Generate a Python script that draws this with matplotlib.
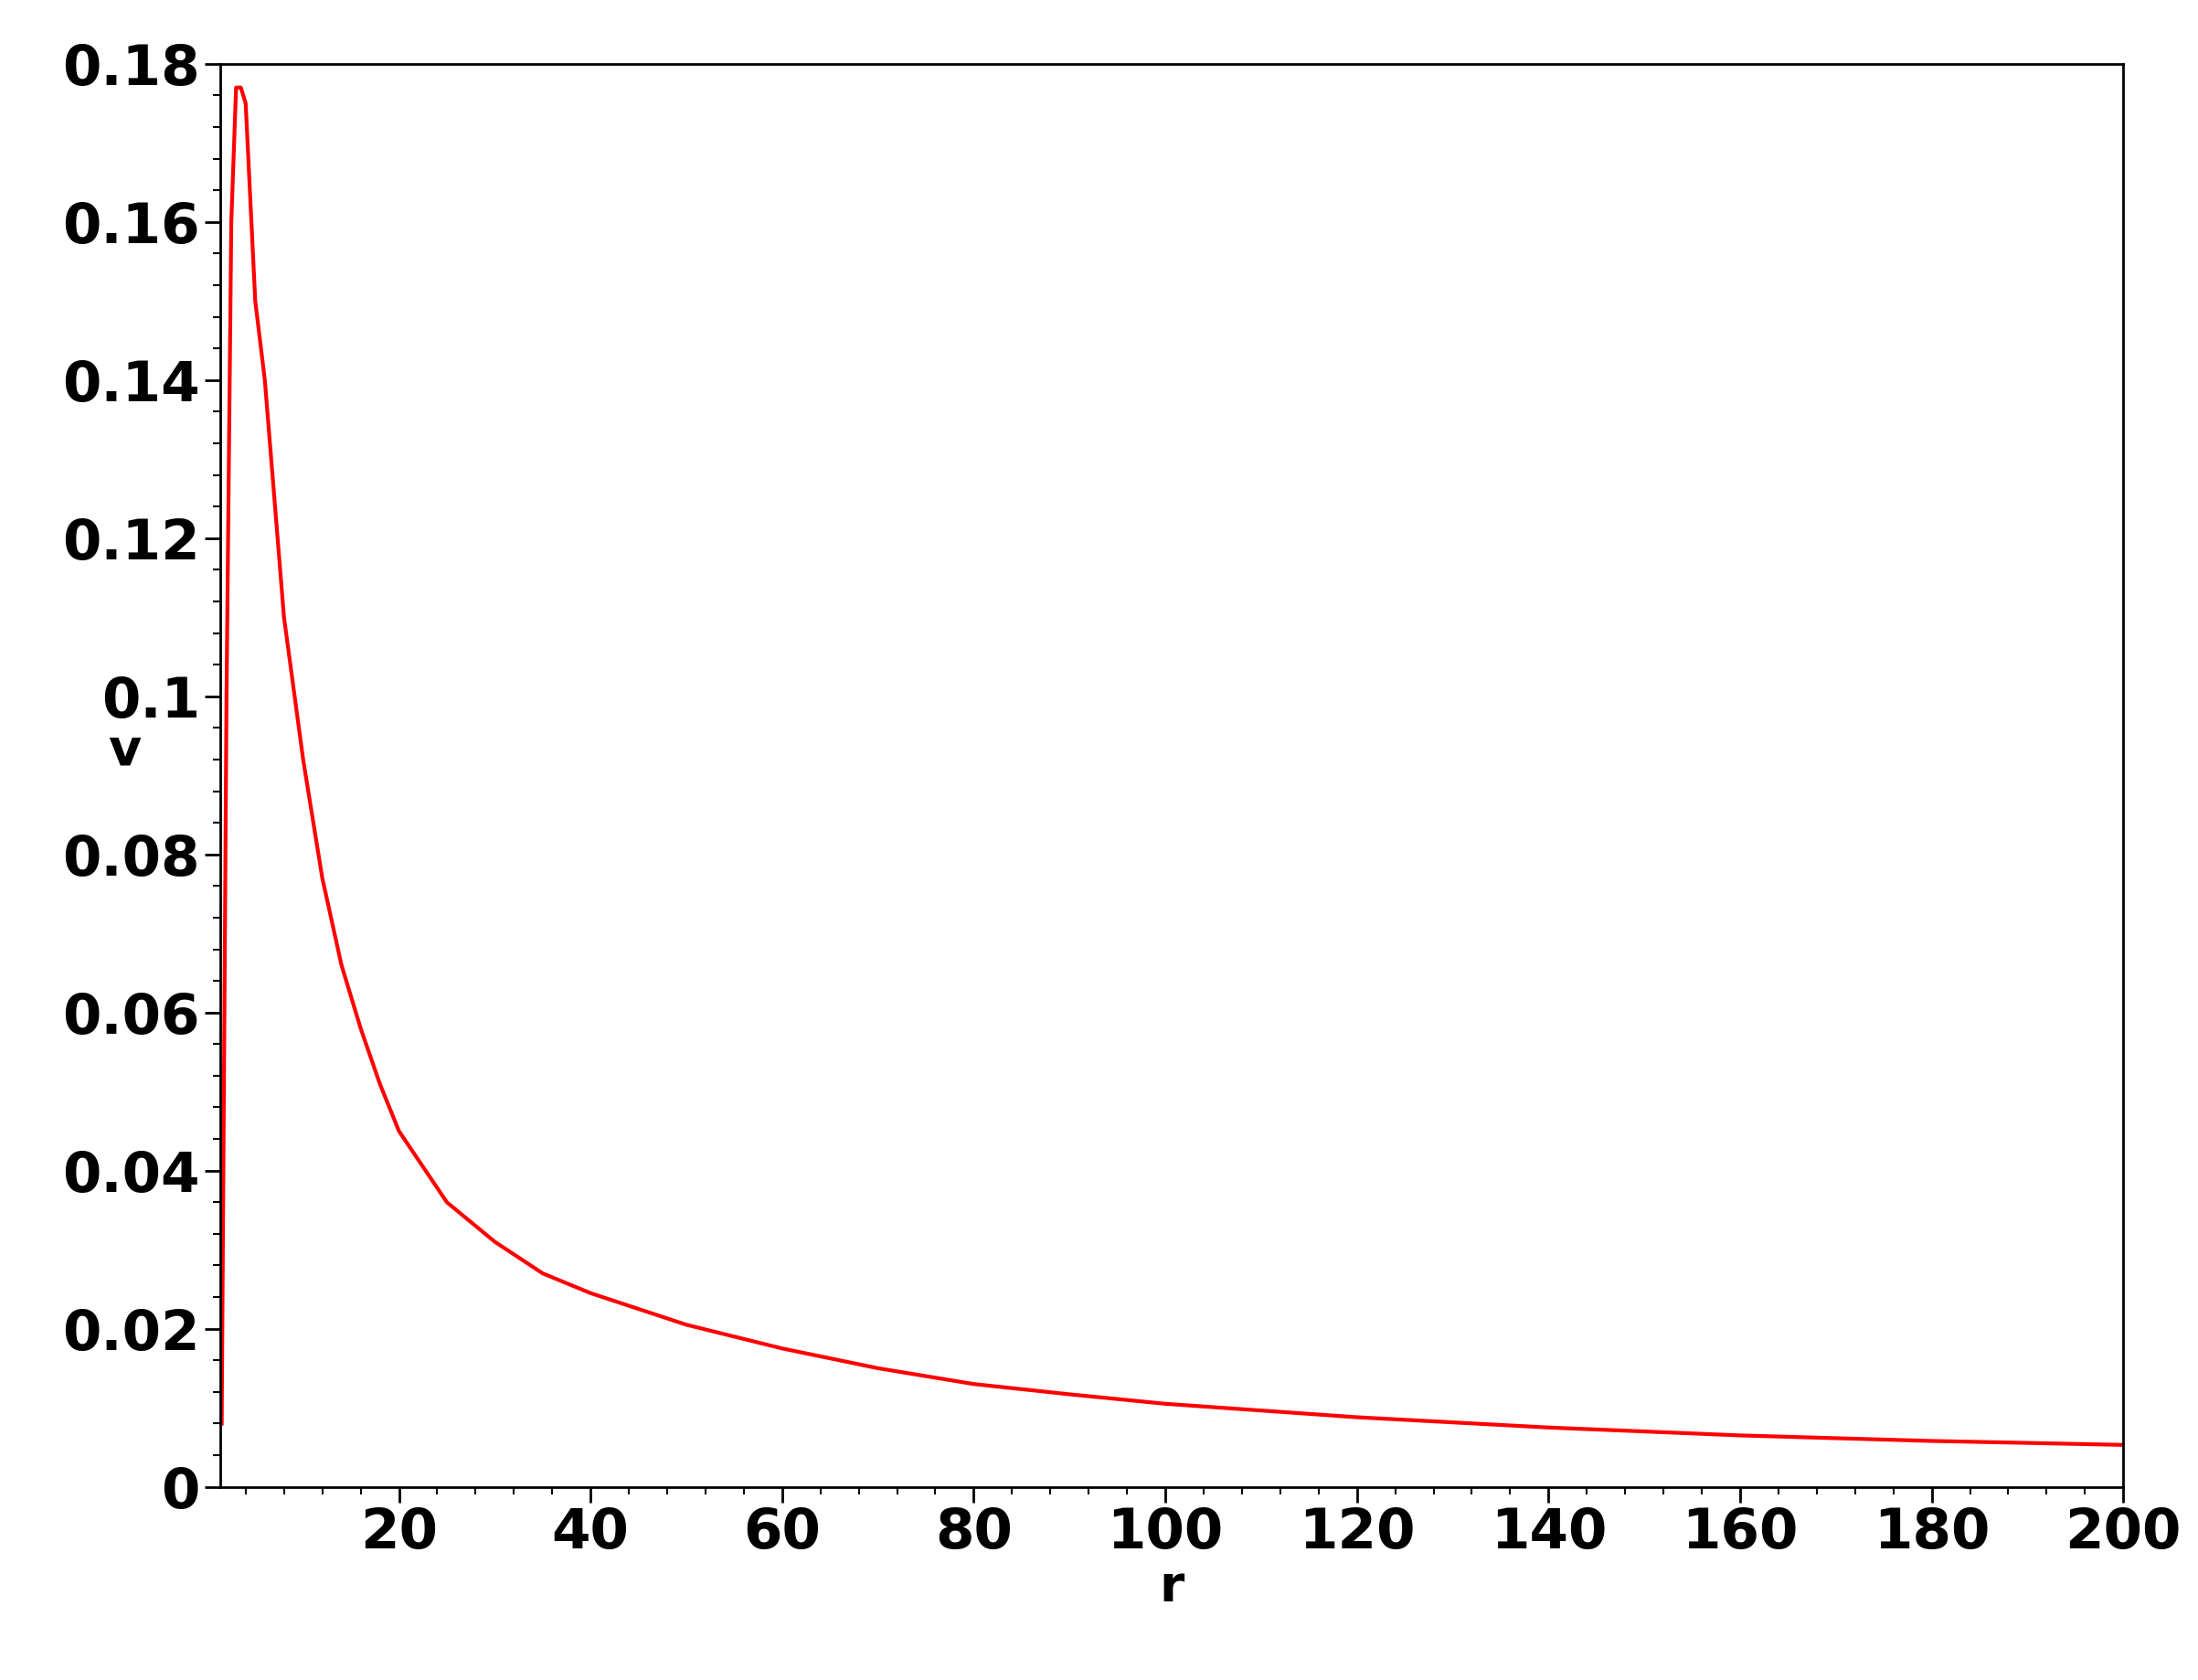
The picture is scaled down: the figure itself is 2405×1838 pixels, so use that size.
import matplotlib
matplotlib.use("Agg")
import matplotlib.pyplot as plt
from matplotlib.ticker import MultipleLocator

r = [1.5, 2, 2.5, 3, 3.5, 4, 5, 6, 7, 8, 10, 12, 14, 16, 18, 20, 25, 30, 35, 40,
     50, 60, 70, 80, 90, 100, 120, 140, 160, 180, 200]
v = [0.008, 0.10, 0.16, 0.177, 0.177, 0.175, 0.15, 0.14, 0.125, 0.11, 0.092, 0.077,
     0.066, 0.058, 0.051, 0.045, 0.036, 0.031, 0.027, 0.0245, 0.0205, 0.0175, 0.015,
     0.013, 0.0117, 0.0105, 0.0088, 0.0075, 0.0065, 0.0058, 0.0053]
xticks = [20, 40, 60, 80, 100, 120, 140, 160, 180, 200]
yticks = [0, 0.02, 0.04, 0.06, 0.08, 0.1, 0.12, 0.14, 0.16, 0.18]
ylabels = ["0", "0.02", "0.04", "0.06", "0.08", "0.1", "0.12", "0.14", "0.16", "0.18"]

fig = plt.figure(figsize=(24.05, 18.38), dpi=100)
ax = fig.add_axes([0.100, 0.115, 0.866, 0.847])
ax.plot(r, v, color="red", lw=3)
ax.set_xlim(1.3, 200)
ax.set_ylim(0, 0.18)
ax.set_xticks(xticks)
ax.set_xticklabels([str(t) for t in xticks], fontsize=44, fontweight="bold")
ax.set_yticks(yticks)
ax.set_yticklabels(ylabels, fontsize=44, fontweight="bold")
ax.xaxis.set_minor_locator(MultipleLocator(4))
ax.yaxis.set_minor_locator(MultipleLocator(0.004))
ax.tick_params(direction="out", length=12, width=2)
ax.tick_params(which="minor", direction="out", length=6, width=1.5)
for s in ax.spines.values():
    s.set_linewidth(2)
ax.set_xlabel("r", fontsize=40, fontweight="bold", labelpad=2)
ax.set_ylabel("v", fontsize=40, fontweight="bold", rotation=0)
ax.yaxis.set_label_coords(-0.05, 0.50)
fig.savefig("out.png", dpi=100)
